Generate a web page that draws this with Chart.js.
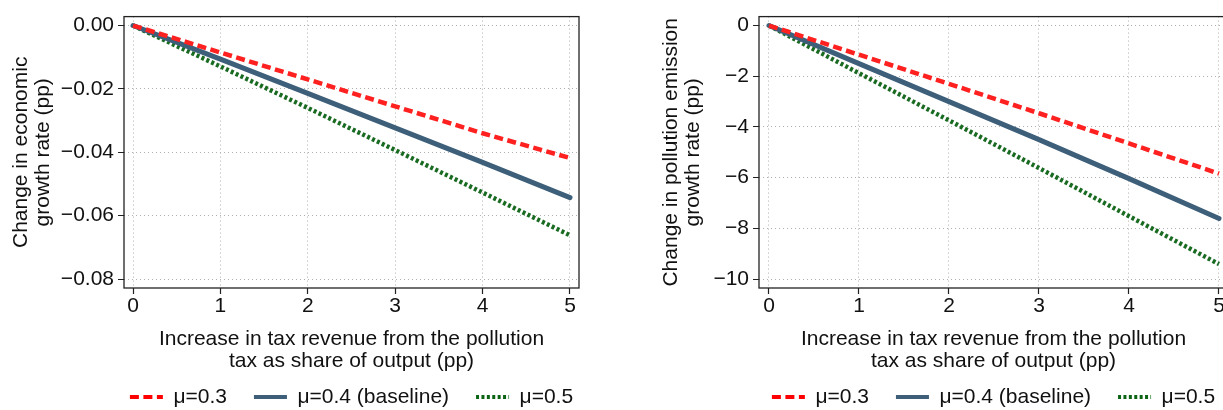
<!DOCTYPE html>
<html>
<head>
<meta charset="utf-8">
<script src="https://cdn.jsdelivr.net/npm/chart.js@4/dist/chart.umd.min.js"></script>
<style>
  html, body { margin: 0; padding: 0; background: #fff; overflow: hidden; width: 1223px; height: 410px; }
  .panel { position: absolute; top: 0; height: 410px; }
  #growth-panel { left: 0; width: 703px; }
  #emission-panel { left: 635px; width: 717px; }
</style>
</head>
<body>
<div class="panel" id="growth-panel"><canvas id="growth-chart"></canvas></div>
<div class="panel" id="emission-panel"><canvas id="emission-chart"></canvas></div>
<script>
const taxShare = [0, 1, 2, 3, 4, 5]
const xTicks = [0, 1, 2, 3, 4, 5]

const seriesLabels = ['μ=0.3', 'μ=0.4 (baseline)', 'μ=0.5']

const growthMu03 = [0, -0.0085, -0.0170, -0.0255, -0.0340, -0.0418]
const growthMu04 = [0, -0.0106, -0.0214, -0.0323, -0.0432, -0.0543]
const growthMu05 = [0, -0.0129, -0.0260, -0.0393, -0.0527, -0.0662]
const growthTicks = [0, -0.02, -0.04, -0.06, -0.08]

const emissionMu03 = [0, -1.15, -2.30, -3.46, -4.65, -5.84]
const emissionMu04 = [0, -1.50, -3.00, -4.50, -6.04, -7.61]
const emissionMu05 = [0, -1.88, -3.74, -5.62, -7.52, -9.41]
const emissionTicks = [0, -2, -4, -6, -8, -10]

const FONT = "'Liberation Sans', Arial, Helvetica, sans-serif"
const styles = [
    { color: '#ff2020', legend: '#ff0000', width: 4.5, dash: [9, 4.5], cap: 'butt' },
    { color: '#3d5f7a', legend: '#3d5f7a', width: 5, dash: [], cap: 'round' },
    { color: '#1a6b22', legend: '#0b6414', width: 4.5, dash: [3, 2.4], cap: 'butt' }
]

const minus = (s) => s.replace('-', '\u2212')

// frame around the plot area
const framePlugin = {
    id: 'frame',
    beforeDatasetsDraw(chart) {
        const { ctx, chartArea: a } = chart
        ctx.save()
        ctx.strokeStyle = '#222'
        ctx.lineWidth = 1.3
        ctx.strokeRect(a.left, a.top, a.right - a.left, a.bottom - a.top)
        ctx.restore()
    }
}

const gridOpts = {
    color: '#b0b0b0',
    lineWidth: 1,
    tickLength: 6,
    tickColor: '#222',
    tickWidth: 1.2,
    tickBorderDash: [1, 0]
}

const makeChart = (canvasId, ys, yTicks, yRange, xRange, yTitle, yTitlePad, fmt) => {
    const datasets = ys.map((vals, i) => ({
        label: seriesLabels[i],
        data: taxShare.map((x, j) => ({ x: x, y: vals[j] })),
        borderColor: styles[i].color,
        borderWidth: styles[i].width,
        borderDash: styles[i].dash,
        borderCapStyle: styles[i].cap,
        pointRadius: 0,
        tension: 0,
        fill: false
    }))
    return new Chart(document.getElementById(canvasId), {
        type: 'line',
        data: { datasets: datasets },
        options: {
            responsive: true,
            maintainAspectRatio: false,
            animation: false,
            layout: { padding: { top: 15, right: 0, bottom: -7.5, left: 0 } },
            plugins: {
                tooltip: { enabled: false },
                legend: {
                    position: 'bottom',
                    align: 'center',
                    labels: {
                        usePointStyle: true,
                        pointStyleWidth: 33,
                        boxHeight: 21,
                        padding: 27,
                        color: '#111',
                        font: { family: FONT, size: 21 },
                        generateLabels: () => seriesLabels.map((t, i) => ({
                            text: t,
                            pointStyle: 'line',
                            strokeStyle: styles[i].legend,
                            fillStyle: styles[i].legend,
                            lineWidth: 4,
                            lineDash: styles[i].dash,
                            fontColor: '#111',
                            datasetIndex: i
                        }))
                    }
                }
            },
            scales: {
                x: {
                    type: 'linear',
                    min: xRange[0],
                    max: xRange[1],
                    afterBuildTicks: (s) => { s.ticks = xTicks.map(v => ({ value: v })) },
                    afterFit: (s) => { s.height = 71.5 },
                    border: { display: false, dash: [1, 3] },
                    grid: gridOpts,
                    ticks: {
                        color: '#111',
                        padding: 2,
                        maxRotation: 0,
                        font: { family: FONT, size: 21, lineHeight: 1 },
                        callback: (v) => String(v)
                    },
                    title: {
                        display: true,
                        text: ['Increase in tax revenue from the pollution', 'tax as share of output (pp)'],
                        color: '#111',
                        font: { family: FONT, size: 21, lineHeight: 1.05 },
                        padding: { top: 0, bottom: -12.5 }
                    }
                },
                y: {
                    type: 'linear',
                    min: yRange[0],
                    max: yRange[1],
                    afterBuildTicks: (s) => { s.ticks = yTicks.map(v => ({ value: v })) },
                    afterFit: (s) => { s.width = 124 },
                    border: { display: false, dash: [1, 3] },
                    grid: gridOpts,
                    ticks: {
                        color: '#111',
                        padding: 4,
                        font: { family: FONT, size: 21 },
                        callback: fmt
                    },
                    title: {
                        display: true,
                        text: yTitle,
                        color: '#111',
                        font: { family: FONT, size: 21, lineHeight: 1.05 },
                        padding: { top: yTitlePad, bottom: 0 }
                    }
                },
                // empty right-hand gutter, keeps the legend centred under the plot
                gutter: {
                    type: 'linear',
                    position: 'right',
                    display: true,
                    afterFit: (s) => { s.width = 124 },
                    border: { display: false },
                    grid: { display: false, drawTicks: false },
                    ticks: { display: false }
                }
            }
        },
        plugins: [framePlugin]
    })
}

const growthChart = makeChart(
    'growth-chart',
    [growthMu03, growthMu04, growthMu05],
    growthTicks,
    [-0.08282, 0.00282],
    [-0.103, 5.103],
    ['Change in economic', 'growth rate (pp)'],
    10,
    (v) => minus(v.toFixed(2))
)

const emissionChart = makeChart(
    'emission-chart',
    [emissionMu03, emissionMu04, emissionMu05],
    emissionTicks,
    [-10.353, 0.353],
    [-0.111, 5.1],
    ['Change in pollution emission', 'growth rate (pp)'],
    25.6,
    (v) => minus(String(v))
)
</script>
</body>
</html>
